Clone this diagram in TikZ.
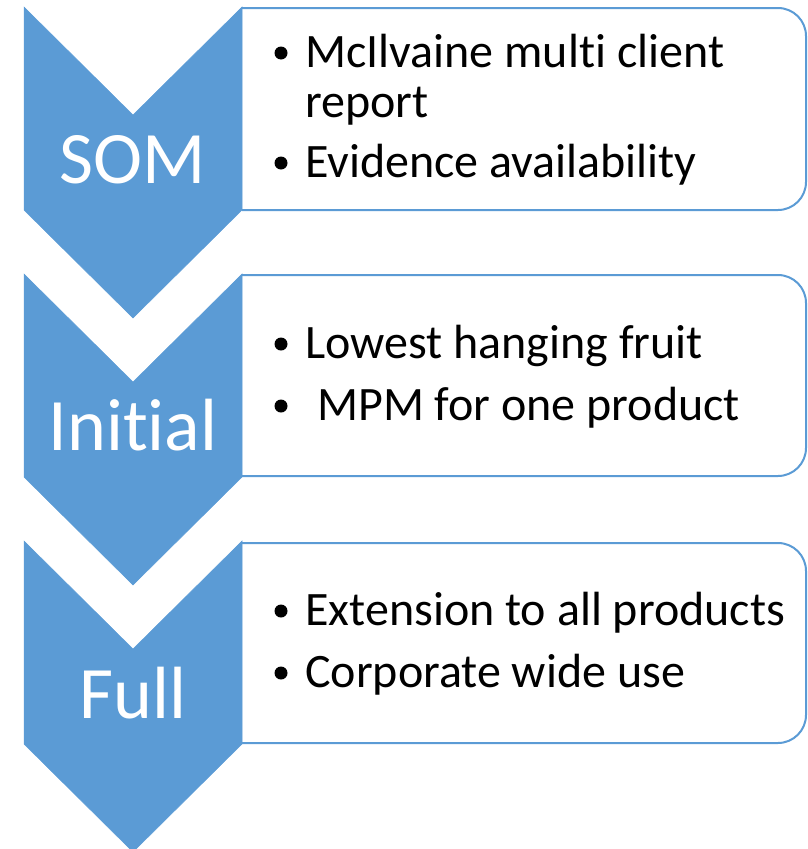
\documentclass[tikz,border=0pt]{standalone}
\usepackage{fontspec}
\setmainfont{Carlito}[Ligatures=NoCommon]
\definecolor{stageblue}{HTML}{5B9BD5}

\begin{document}
\begin{tikzpicture}[x=1pt, y=-1pt]
                \tikzstyle{chevron}=[fill=stageblue, draw=stageblue, line width=0.5pt]
                \tikzstyle{panel}=[draw=stageblue, line width=2pt, fill=white, rounded corners=28pt]
                \tikzstyle{stage}=[text=white, font=\fontsize{74}{80}\selectfont, inner sep=0pt, anchor=base]
                \tikzstyle{item}=[font=\fontsize{48}{52}\selectfont, inner sep=0pt, anchor=base west]
                \tikzstyle{dot}=[circle, fill=black, inner sep=0pt, minimum size=13pt]

                    \useasboundingbox (0,0) rectangle (808,849);

                    % Caixas
                    \draw[panel] (242,8) -- (806,8) -- (806,210) -- (242,210);
                    \draw[panel] (242,275) -- (806,275) -- (806,476) -- (242,476);
                    \draw[panel] (242,543) -- (806,543) -- (806,743) -- (242,743);

                    % Setas
                    \draw[chevron] (24,7) -- (133,115) -- (242,7) -- (242,210) -- (133,318) -- (24,210) -- cycle;
                    \draw[chevron] (24,274) -- (133,382) -- (242,274) -- (242,477) -- (133,585) -- (24,477) -- cycle;
                    \draw[chevron] (24,541) -- (133,649) -- (242,541) -- (242,744) -- (133,852) -- (24,744) -- cycle;

                    \node[stage] (som) at (133,183) {SOM};
                    \node[stage] (initial) at (133,450) {Initial};
                    \node[stage] (full) at (133,718) {Full};

                    % Itens
                    \node[dot] (d1) at (281,53) {};
                    \node[item] (t1) at (305,67) {McIlvaine multi client};
                    \node[item] (t1b) at (305,117) {report};
                    \node[dot] (d2) at (281,163) {};
                    \node[item] (t2) at (305,177) {Evidence availability};

                    \node[dot] (d3) at (281,344) {};
                    \node[item] (t3) at (305,358) {Lowest hanging fruit};
                    \node[dot] (d4) at (281,406) {};
                    \node[item] (t4) at (317,420) {MPM for one product};

                    \node[dot] (d5) at (281,611) {};
                    \node[item] (t5) at (305,625) {Extension to all products};
                    \node[dot] (d6) at (281,673) {};
                    \node[item] (t6) at (305,687) {Corporate wide use};
            \end{tikzpicture}
\end{document}
